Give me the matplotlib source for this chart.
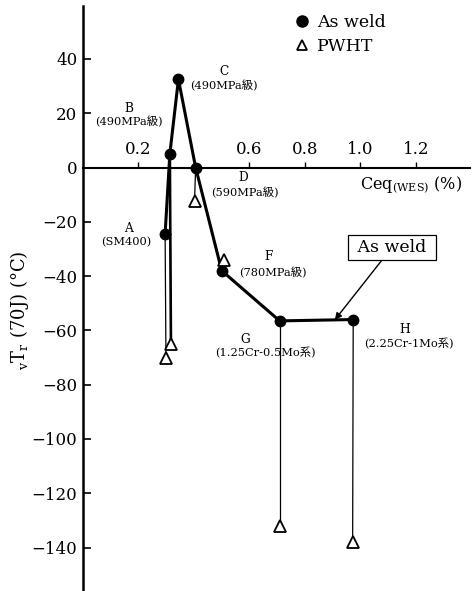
import matplotlib
matplotlib.use("Agg")
import matplotlib.pyplot as plt
from matplotlib.lines import Line2D

plt.rcParams['font.family'] = ['DejaVu Serif', 'Noto Sans CJK JP', 'DejaVu Sans']
plt.rcParams['mathtext.fontset'] = 'dejavuserif'

# ---- data ----
steel_ids = ["A", "B", "C", "D", "F", "G", "H"]
steel_desc = ["(SM400)", "(490MPa級)", "(490MPa級)", "(590MPa級)", "(780MPa級)",
              "(1.25Cr-0.5Mo系)", "(2.25Cr-1Mo系)"]
ceq_as_weld = [0.296, 0.313, 0.344, 0.406, 0.500, 0.709, 0.974]
vtr_as_weld = [-24.5, 5.0, 32.5, 0.0, -38.0, -56.5, -56.0]

pwht_ids = ["A", "B", "D", "F", "G", "H"]
ceq_pwht = [0.299, 0.317, 0.402, 0.508, 0.709, 0.972]
vtr_pwht = [-70.0, -65.0, -12.5, -34.0, -132.0, -138.0]

x_ticks = [0.2, 0.4, 0.6, 0.8, 1.0, 1.2]
x_ticklabels = ["0.2", "", "0.6", "0.8", "1.0", "1.2"]
y_ticks = [40, 20, 0, -20, -40, -60, -80, -100, -120, -140]

# ---- figure ----
fig = plt.figure(figsize=(4.72, 5.91), dpi=100)
ax = fig.add_axes([83/472, 0.0, 387/472, 585/591])
ax.set_xlim(0, 1.395)
ax.set_ylim(-156, 59.5)

# verticals As weld -> PWHT
aw = dict(zip(steel_ids, zip(ceq_as_weld, vtr_as_weld)))
for sid, xp, yp in zip(pwht_ids, ceq_pwht, vtr_pwht):
    if sid == "F":
        continue
    xa, ya = aw[sid]
    lw = 1.9 if sid == "B" else 0.9
    ax.plot([xa, xp], [ya, yp], color="black", lw=lw, zorder=2)

# main polyline
ax.plot(ceq_as_weld, vtr_as_weld, color="black", lw=2.2, zorder=3)
ax.plot(ceq_as_weld, vtr_as_weld, 'o', color="black", ms=7.5, zorder=4)
ax.plot(ceq_pwht, vtr_pwht, '^', mfc="white", mec="black", mew=1.3, ms=8, zorder=4)

# labels for points
letter_off = [(-26, 4), (-29.5, 33), (32.5, 5.5), (34.5, -7), (33.5, 10.5), (-24.5, -13.5), (37, -7.5)]
desc_off = [(-28, -5.5), (-29.5, 23), (33, -4.5), (35.5, -18), (37, -1), (-10, -23), (40, -17)]
for sid, d, x, y, lo, do in zip(steel_ids, steel_desc, ceq_as_weld, vtr_as_weld, letter_off, desc_off):
    ax.annotate(sid, (x, y), xytext=lo, textcoords="offset points",
                ha="center", va="center", fontsize=8.8)
    ax.annotate(d, (x, y), xytext=do, textcoords="offset points",
                ha="center", va="center", fontsize=8.2)

# "As weld" call-out box with arrow onto G-H segment
gi, hi = steel_ids.index("G"), steel_ids.index("H")
tx = ceq_as_weld[gi] + 0.75 * (ceq_as_weld[hi] - ceq_as_weld[gi])
ty = vtr_as_weld[gi] + 0.75 * (vtr_as_weld[hi] - vtr_as_weld[gi])
ax.annotate(" As weld ", (tx, ty), xytext=(41, 52), textcoords="offset points",
            ha="center", va="center", fontsize=12.5,
            bbox=dict(boxstyle="square,pad=0.25", fc="white", ec="black", lw=0.9),
            arrowprops=dict(arrowstyle="-|>", color="black", lw=1.0,
                            shrinkA=0, shrinkB=0, mutation_scale=10))

# axes styling
for s in ["right", "bottom"]:
    ax.spines[s].set_visible(False)
ax.spines["top"].set_position(("data", 0))
ax.spines["top"].set_linewidth(1.5)
ax.spines["left"].set_linewidth(1.8)
ax.xaxis.set_ticks_position("top")
ax.set_xticks(x_ticks)
ax.set_xticklabels(x_ticklabels)
ax.set_yticks(y_ticks)
ax.tick_params(axis="x", direction="out", length=4, width=1.0, labelsize=12, pad=3)
ax.tick_params(axis="y", direction="in", length=6, width=1.2, labelsize=12, pad=4)

ax.set_ylabel(r"$_{\mathrm{v}}\mathrm{T}_{\mathrm{r}}$ (70J) (°C)", fontsize=13)
ax.yaxis.set_label_coords(-0.135, 0.48)

ax.text(0.716, 0.693, r"Ceq$_{\mathrm{(WES)}}$ (%)", transform=ax.transAxes,
        ha="left", va="center", fontsize=11.5)

handles = [Line2D([], [], marker='o', ls='none', color='black', ms=8),
           Line2D([], [], marker='^', ls='none', mfc='white', mec='black', mew=1.3, ms=7)]
ax.legend(handles, ["As weld", "PWHT"], loc="upper left", bbox_to_anchor=(0.522, 1.004),
          frameon=False, fontsize=12.5, handlelength=0.8, handletextpad=0.45,
          borderpad=0.1, labelspacing=0.4)

fig.savefig("out.png", dpi=100)
